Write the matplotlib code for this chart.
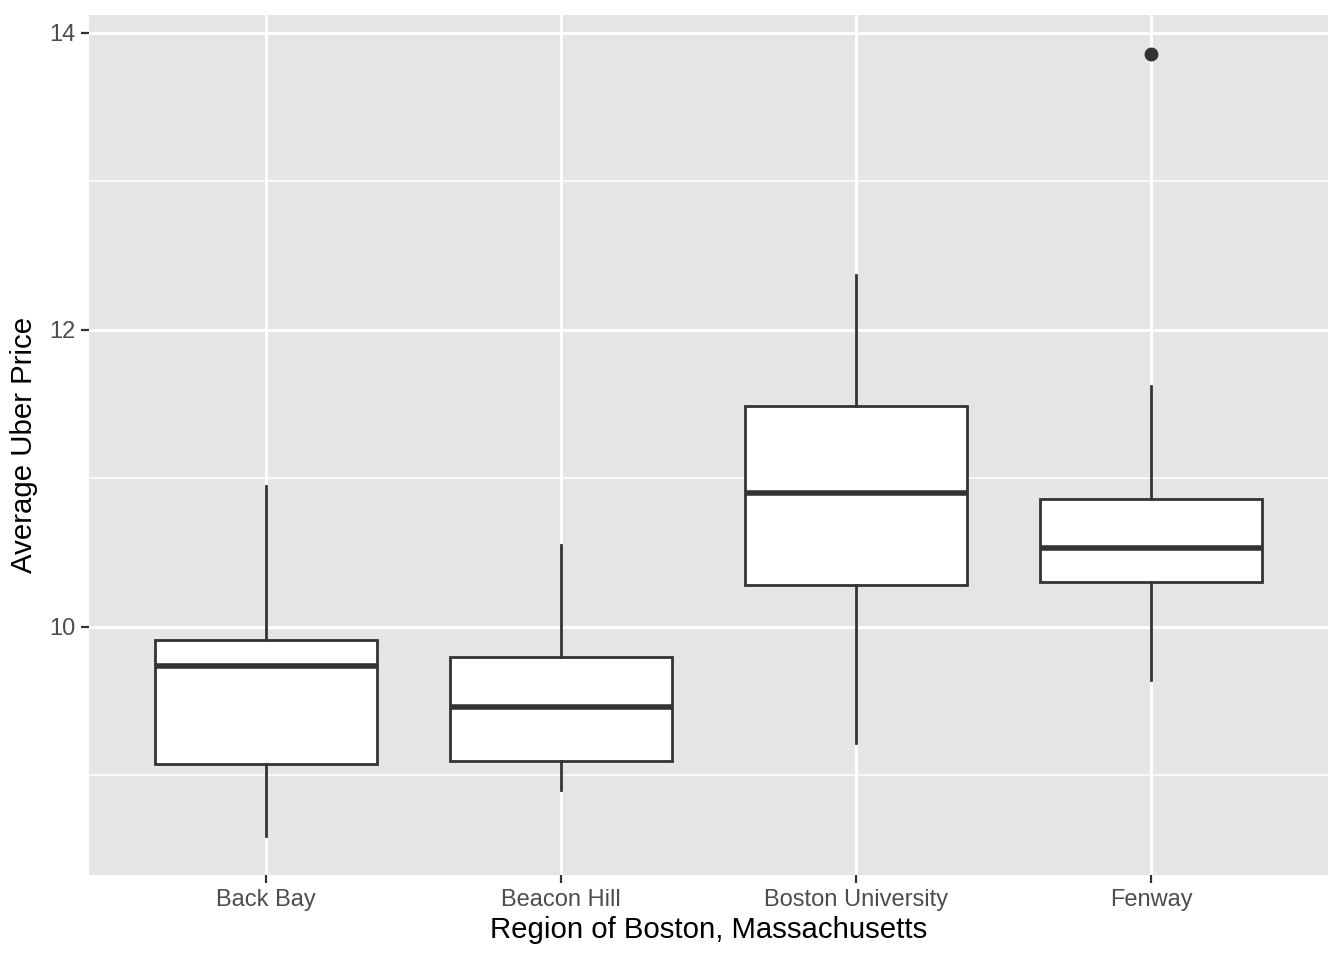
import matplotlib
matplotlib.use("Agg")
import matplotlib.pyplot as plt

plt.rcParams['font.family'] = ['Liberation Sans', 'DejaVu Sans']

# box statistics
regions = ['Back Bay', 'Beacon Hill', 'Boston University', 'Fenway']
whislo = [8.59, 8.90, 9.22, 9.64]
q1 = [9.08, 9.10, 10.28, 10.30]
med = [9.74, 9.46, 10.90, 10.53]
q3 = [9.91, 9.80, 11.49, 10.86]
whishi = [10.95, 10.55, 12.37, 11.62]
fliers = [[], [], [], [13.86]]

stats = []
for i in range(len(regions)):
    stats.append(dict(label=regions[i], whislo=whislo[i], q1=q1[i], med=med[i],
                      q3=q3[i], whishi=whishi[i], fliers=fliers[i]))

fig = plt.figure(figsize=(6.72, 4.8), dpi=200)
ax = fig.add_axes([89/1344, 1 - 875/960, (1328-89)/1344, (875-15)/960])
ax.set_facecolor('#E5E5E5')

# grid like ggplot
for y in [9, 11, 13]:
    ax.axhline(y, color='white', lw=0.55, zorder=0)
for y in [10, 12, 14]:
    ax.axhline(y, color='white', lw=1.07, zorder=0)
for x in range(1, 5):
    ax.axvline(x, color='white', lw=1.07, zorder=0)

edge = '#333333'
ax.bxp(stats, positions=[1, 2, 3, 4], widths=0.75, patch_artist=True, showcaps=False,
       boxprops=dict(facecolor='white', edgecolor=edge, linewidth=1.0),
       medianprops=dict(color=edge, linewidth=2.0, solid_capstyle='butt'),
       whiskerprops=dict(color=edge, linewidth=1.0),
       flierprops=dict(marker='o', markerfacecolor=edge, markeredgecolor=edge, markersize=4),
       zorder=2)

ax.set_xlim(0.4, 4.6)
ax.set_ylim(8.33, 14.12)
ax.set_yticks([10, 12, 14])
ax.set_xticks([1, 2, 3, 4])
ax.set_xticklabels(regions)
for s in ax.spines.values():
    s.set_visible(False)
ax.tick_params(colors='#333333', length=3, width=0.8, labelsize=8.5, labelcolor='#4D4D4D', pad=2)
ax.set_xlabel('Region of Boston, Massachusetts', fontsize=10.6, labelpad=2)
ax.set_ylabel('Average Uber Price', fontsize=10.6, labelpad=4)

fig.savefig('out.png', dpi=200)
